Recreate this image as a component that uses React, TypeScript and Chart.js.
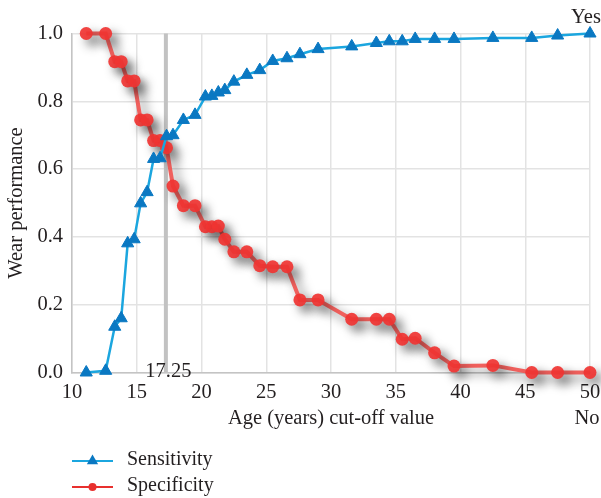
import React, { useEffect, useRef } from "react";
import { Chart, registerables } from "chart.js";

Chart.register(...registerables);

// Age cut-off values (years)
const cutoffAges = [
  11.1, 12.6, 13.3, 13.8, 14.3, 14.8, 15.3, 15.8, 16.3, 16.8, 17.3, 17.8,
  18.6, 19.5, 20.3, 20.8, 21.3, 21.8, 22.5, 23.5, 24.5, 25.5, 26.6, 27.6,
  29.0, 31.6, 33.5, 34.5, 35.5, 36.5, 38.0, 39.5, 42.5, 45.5, 47.5, 50.0,
];

const sensitivity = [
  0.0, 0.005, 0.135, 0.16, 0.381, 0.393, 0.499, 0.532, 0.63, 0.632, 0.697, 0.7,
  0.745, 0.76, 0.814, 0.816, 0.826, 0.833, 0.858, 0.878, 0.892, 0.919, 0.927,
  0.939, 0.954, 0.962, 0.972, 0.977, 0.977, 0.984, 0.984, 0.984, 0.987, 0.987,
  0.994, 1.0,
];

const specificity = [
  1.0, 1.0, 0.917, 0.917, 0.86, 0.86, 0.745, 0.745, 0.684, 0.684, 0.663, 0.55,
  0.492, 0.492, 0.43, 0.43, 0.432, 0.393, 0.356, 0.356, 0.315, 0.312, 0.312,
  0.214, 0.214, 0.157, 0.157, 0.157, 0.098, 0.101, 0.058, 0.019, 0.021, 0.0,
  0.0, 0.0,
];

const xTickValues = [10, 15, 20, 25, 30, 35, 40, 45, 50];
const yTickValues = [0, 0.2, 0.4, 0.6, 0.8, 1.0];
const optimalCutoff = 17.25;
const optimalLabel = "17.25";
const seriesNames = ["Sensitivity", "Specificity"];
const xTitle = "Age (years) cut-off value";
const yTitle = "Wear performance";
const topRightLabel = "Yes";
const bottomRightLabel = "No";

const FONT = "'Liberation Serif', 'Times New Roman', serif";
const TEXT = "#231f20";
const BLUE_LINE = "#1ba6df";
const BLUE_MARK = "#0a78c2";
const RED_LINE = "#f0605d";
const RED_MARK = "rgba(240,52,50,0.92)";
const TICK_SIZE = 20.5;

const overlayPlugin = {
  id: "overlay",
  beforeDatasetsDraw(chart: any) {
    const { ctx, chartArea, scales } = chart;
    const px = scales.x.getPixelForValue(optimalCutoff);
    ctx.save();
    ctx.strokeStyle = "#c2c2c2";
    ctx.lineWidth = 4;
    ctx.beginPath();
    ctx.moveTo(px, chartArea.top);
    ctx.lineTo(px, chartArea.bottom);
    ctx.stroke();
    ctx.restore();
  },
  beforeDatasetDraw(chart: any, args: any) {
    if (args.index === 1) {
      const ctx = chart.ctx;
      ctx.save();
      ctx.shadowColor = "rgba(0,0,0,0.5)";
      ctx.shadowBlur = 11;
      ctx.shadowOffsetX = 6;
      ctx.shadowOffsetY = 6;
    }
  },
  afterDatasetDraw(chart: any, args: any) {
    if (args.index === 1) chart.ctx.restore();
  },
  afterDraw(chart: any) {
    const { ctx, chartArea, scales } = chart;
    ctx.save();
    ctx.fillStyle = TEXT;
    ctx.font = `${TICK_SIZE}px ${FONT}`;
    ctx.textBaseline = "middle";
    ctx.textAlign = "center";
    const px = scales.x.getPixelForValue(optimalCutoff);
    ctx.fillText(optimalLabel, px + 2.5, chartArea.bottom - 1);
    ctx.fillText(topRightLabel, chartArea.right - 4, chartArea.top - 16);
    ctx.fillText(bottomRightLabel, chartArea.right - 3, chartArea.bottom + 46);

    // legend
    const lx0 = chartArea.left;
    const lx1 = chartArea.left + 41;
    const mx = (lx0 + lx1) / 2;
    const rows = [chartArea.bottom + 88.5, chartArea.bottom + 114.5];
    ctx.strokeStyle = BLUE_LINE;
    ctx.lineWidth = 2;
    ctx.beginPath();
    ctx.moveTo(lx0, rows[0]);
    ctx.lineTo(lx1, rows[0]);
    ctx.stroke();
    const r = 6.5;
    ctx.fillStyle = BLUE_MARK;
    ctx.beginPath();
    ctx.moveTo(mx, rows[0] - r);
    ctx.lineTo(mx + r * 0.866, rows[0] + r * 0.5);
    ctx.lineTo(mx - r * 0.866, rows[0] + r * 0.5);
    ctx.closePath();
    ctx.fill();
    ctx.strokeStyle = "#e8302e";
    ctx.beginPath();
    ctx.moveTo(lx0, rows[1]);
    ctx.lineTo(lx1, rows[1]);
    ctx.stroke();
    ctx.fillStyle = "#e8302e";
    ctx.beginPath();
    ctx.arc(mx, rows[1], 4, 0, Math.PI * 2);
    ctx.fill();

    ctx.fillStyle = TEXT;
    ctx.textAlign = "left";
    ctx.font = `20px ${FONT}`;
    ctx.fillText(seriesNames[0], lx0 + 55, rows[0] - 1);
    ctx.fillText(seriesNames[1], lx0 + 55, rows[1] - 1);
    ctx.restore();
  },
};

export default function App() {
  const canvasRef = useRef<HTMLCanvasElement | null>(null);

  useEffect(() => {
    if (!canvasRef.current) return;
    const chart = new Chart(canvasRef.current, {
      type: "line",
      data: {
        datasets: [
          {
            label: seriesNames[0],
            data: cutoffAges.map((x, i) => ({ x, y: sensitivity[i] })),
            borderColor: BLUE_LINE,
            borderWidth: 2.5,
            pointStyle: "triangle",
            pointRadius: 7,
            pointBackgroundColor: BLUE_MARK,
            pointBorderColor: BLUE_MARK,
            pointBorderWidth: 1,
            tension: 0,
            clip: false as any,
          },
          {
            label: seriesNames[1],
            data: cutoffAges.map((x, i) => ({ x, y: specificity[i] })),
            borderColor: RED_LINE,
            borderWidth: 4,
            pointStyle: "circle",
            pointRadius: 6.5,
            pointBackgroundColor: RED_MARK,
            pointBorderColor: RED_MARK,
            pointBorderWidth: 0,
            tension: 0,
            clip: false as any,
          },
        ],
      },
      options: {
        animation: false,
        responsive: false,
        maintainAspectRatio: false,
        layout: { padding: { top: 33.5, right: 11, bottom: 63.5, left: 0 } },
        plugins: {
          legend: { display: false },
          tooltip: { enabled: false },
        },
        scales: {
          x: {
            type: "linear",
            min: 10,
            max: 50,
            afterBuildTicks: (s: any) => {
              s.ticks = xTickValues.map((v) => ({ value: v }));
            },
            afterFit: (s: any) => {
              s.height = 62;
              s.paddingLeft = 0;
              s.paddingRight = 0;
            },
            grid: { color: "#e3e3e3", lineWidth: 1.5, drawTicks: false },
            border: { color: "#c4c4c4", width: 1.5 },
            ticks: {
              padding: 8,
              color: TEXT,
              font: { family: FONT, size: TICK_SIZE },
              maxRotation: 0,
              callback: (v: any) => String(v),
            },
            title: {
              display: true,
              text: xTitle,
              color: TEXT,
              font: { family: FONT, size: TICK_SIZE },
              padding: { top: 4, bottom: 4 },
            },
          },
          y: {
            type: "linear",
            min: 0,
            max: 1,
            afterBuildTicks: (s: any) => {
              s.ticks = yTickValues.map((v) => ({ value: v }));
            },
            afterFit: (s: any) => {
              s.width = 72;
            },
            grid: { color: "#e3e3e3", lineWidth: 1.5, drawTicks: false },
            border: { color: "#c4c4c4", width: 1.5 },
            ticks: {
              padding: 9,
              color: TEXT,
              font: { family: FONT, size: TICK_SIZE },
              callback: (v: any) => Number(v).toFixed(1),
            },
            title: {
              display: true,
              text: yTitle,
              color: TEXT,
              font: { family: FONT, size: TICK_SIZE },
              padding: { top: 4.5, bottom: 4 },
            },
          },
        },
      },
      plugins: [overlayPlugin],
    });
    return () => chart.destroy();
  }, []);

  return (
    <div style={{ position: "fixed", left: 0, top: 0, width: 601, height: 498, background: "#ffffff" }}>
      <canvas ref={canvasRef} width={601} height={498} style={{ display: "block", width: 601, height: 498 }} />
    </div>
  );
}
